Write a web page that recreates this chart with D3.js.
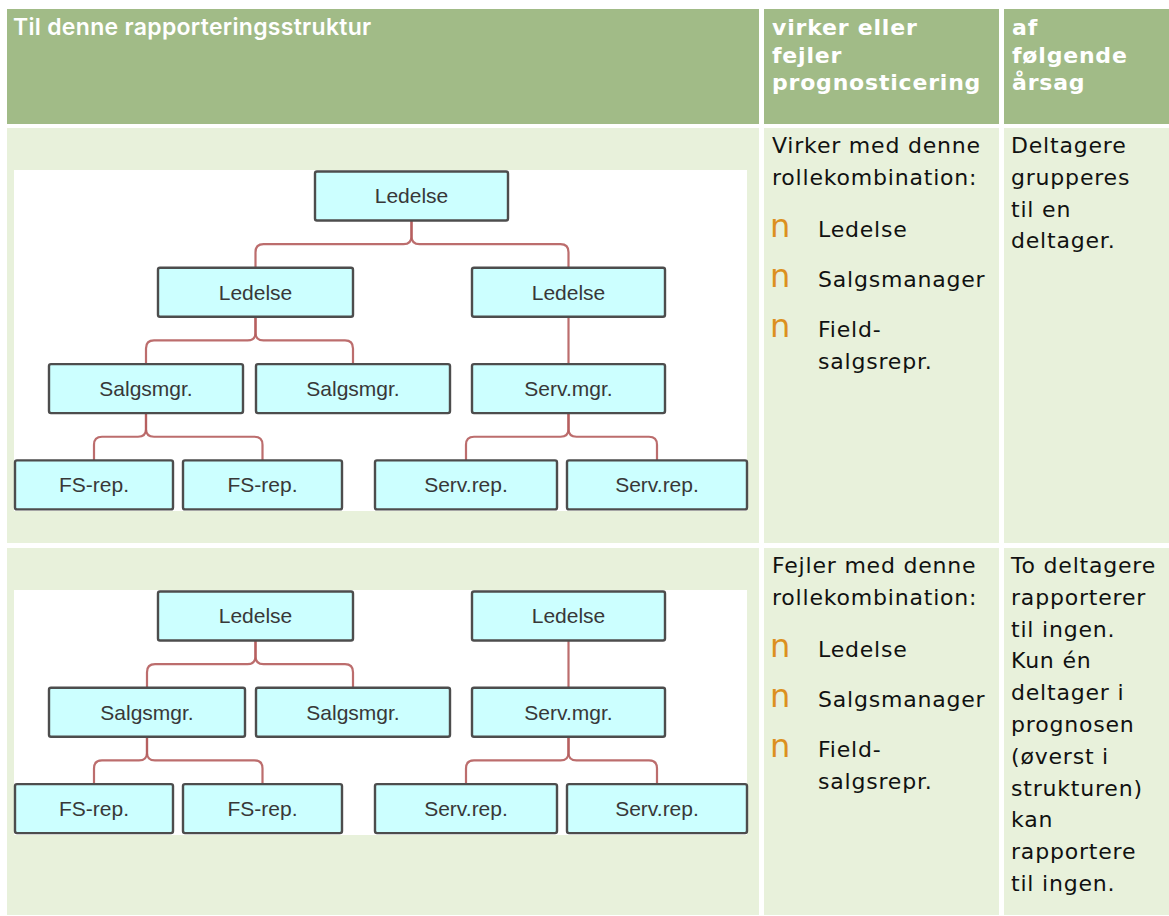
<!DOCTYPE html>
<html><head><meta charset="utf-8">
<script src="https://cdn.jsdelivr.net/npm/d3@7"></script>
<style>html,body{margin:0;padding:0;background:#fff;}svg{display:block;}</style>
</head><body>
<script>
// ---------- DATA ----------
const headers = [
  ["Til denne rapporteringsstruktur"],
  ["virker eller", "fejler", "prognosticering"],
  ["af", "følgende", "årsag"]
];
const statusLines = [
  ["Virker med denne", "rollekombination:"],
  ["Fejler med denne", "rollekombination:"]
];
const roleItems = [
  [["Ledelse"], ["Salgsmanager"], ["Field-", "salgsrepr."]],
  [["Ledelse"], ["Salgsmanager"], ["Field-", "salgsrepr."]]
];
const reasonLines = [
  ["Deltagere", "grupperes", "til en", "deltager."],
  ["To deltagere", "rapporterer", "til ingen.", "Kun én", "deltager i", "prognosen", "(øverst i", "strukturen)", "kan", "rapportere", "til ingen."]
];
const bulletGlyph = "n";

// org-chart structure (row 1: works, row 2: fails)
const tree1Labels  = ["Ledelse", "Ledelse", "Ledelse", "Salgsmgr.", "Salgsmgr.", "Serv.mgr.", "FS-rep.", "FS-rep.", "Serv.rep.", "Serv.rep."];
const tree1Parents = [-1, 0, 0, 1, 1, 2, 3, 3, 5, 5];
const tree1Levels  = [0, 1, 1, 2, 2, 2, 3, 3, 3, 3];
const tree2Labels  = ["Ledelse", "Ledelse", "Salgsmgr.", "Salgsmgr.", "Serv.mgr.", "FS-rep.", "FS-rep.", "Serv.rep.", "Serv.rep."];
const tree2Parents = [-1, -1, 0, 0, 1, 2, 2, 4, 4];
const tree2Levels  = [0, 0, 1, 1, 1, 2, 2, 2, 2];

// ---------- LAYOUT (diagram units of the drawing) ----------
const tree1Span = [[301,494],[144,339],[458,651],[35,229],[242,436],[458,651],[1,159],[169,328],[361,543],[553,733]];
const tree2Span = [[144,339],[458,651],[35,231],[242,436],[458,651],[1,159],[169,328],[361,543],[553,733]];

const W = 1169, H = 916;
const colX = [7, 764, 1004], colR = [759, 999, 1169];
const headTop = 9, headBot = 124;
const rowTop = [128, 548], rowBot = [543, 915];
const imgLeft = 14, imgRight = 747;
const imgTop = [170, 590], imgBot = [511, 835];
const C = {head:"#a1bb87", cell:"#e8f1db", box:"#ccffff", boxStroke:"#4d4d4d", link:"#b55d5d", bullet:"#dc9020"};

const svg = d3.select("body").append("svg").attr("width", W).attr("height", H);
svg.append("rect").attr("width", W).attr("height", H).attr("fill", "#fff");

// header cells
const colIdx = d3.range(3);
svg.selectAll("rect.head").data(colIdx).join("rect")
  .attr("x", i => colX[i]).attr("y", headTop)
  .attr("width", i => colR[i] - colX[i]).attr("height", headBot - headTop)
  .attr("fill", C.head);
// body cells
rowTop.forEach((t, r) => {
  svg.selectAll("rect.c" + r).data(colIdx).join("rect")
    .attr("x", i => colX[i]).attr("y", t)
    .attr("width", i => colR[i] - colX[i]).attr("height", rowBot[r] - t)
    .attr("fill", C.cell);
});

// header text
headers.forEach((lines, i) => {
  const t = svg.append("text")
    .attr("x", i === 0 ? 13 : colX[i] + 8)
    .attr("fill", "#fff")
    .style("font-family", i === 0 ? "Inter, 'Open Sans', sans-serif" : "'DejaVu Sans', Verdana, sans-serif")
    .style("font-weight", i === 0 ? 600 : 700)
    .style("font-size", i === 0 ? "23px" : "22px")
    .style("letter-spacing", i === 0 ? "0.3px" : "0.8px");
  t.selectAll("tspan").data(lines).join("tspan")
    .attr("x", i === 0 ? 13 : colX[i] + 8)
    .attr("y", (d, k) => 35 + k * 27.5)
    .text(d => d);
});

const bodyFont = sel => sel.style("font-family", "'DejaVu Sans', Verdana, sans-serif")
  .style("font-size", "22px").style("letter-spacing", "0.8px").attr("fill", "#111");
const LH = 31.8;

rowTop.forEach((t, r) => {
  const base = t + 25;
  // status paragraph
  const st = svg.append("text").call(bodyFont);
  st.selectAll("tspan").data(statusLines[r]).join("tspan")
    .attr("x", 772).attr("y", (d, k) => base + k * LH).text(d => d);
  // bullets
  let y = base + (statusLines[r].length - 1) * LH + 52;
  roleItems[r].forEach(item => {
    svg.append("text").attr("x", 770).attr("y", y).attr("fill", C.bullet)
      .style("font-family", "'DejaVu Sans', sans-serif").style("font-weight", 400)
      .style("font-size", "32px").text(bulletGlyph);
    const it = svg.append("text").call(bodyFont);
    it.selectAll("tspan").data(item).join("tspan")
      .attr("x", 818).attr("y", (d, k) => y + k * LH).text(d => d);
    y += (item.length - 1) * LH + 50.3;
  });
  // reason
  const rs = svg.append("text").call(bodyFont);
  rs.selectAll("tspan").data(reasonLines[r]).join("tspan")
    .attr("x", 1011).attr("y", (d, k) => base + k * LH).text(d => d);
});

// ---------- org charts ----------
function drawTree(r, labels, parents, levels, spans) {
  const g = svg.append("g");
  g.append("rect").attr("x", imgLeft).attr("y", imgTop[r])
    .attr("width", imgRight - imgLeft).attr("height", imgBot[r] - imgTop[r]).attr("fill", "#fff");
  const x = d3.scaleLinear().domain([0, 733]).range([imgLeft, imgRight]);
  const y = d3.scaleLinear().domain([0, 1]).range([imgTop[r] + 1.5, imgTop[r] + 1.5 + 96.3]);
  const boxH = 49, rad = 8;
  const nodes = labels.map((l, i) => ({label: l, parent: parents[i], level: levels[i],
    x0: x(spans[i][0]), x1: x(spans[i][1]), top: y(levels[i])}));
  nodes.forEach(n => n.cx = (n.x0 + n.x1) / 2);
  // links
  const links = nodes.filter(n => n.parent >= 0);
  g.selectAll("path.link").data(links).join("path")
    .attr("fill", "none").attr("stroke", C.link).attr("stroke-width", 2.2).attr("stroke-opacity", 0.9)
    .attr("d", c => {
      const p = nodes[c.parent];
      const pb = p.top + boxH, ct = c.top, by = (pb + ct) / 2;
      const siblings = nodes.filter(n => n.parent === c.parent);
      if (siblings.length === 1) return `M${p.cx},${pb}V${ct}`;
      const s = c.cx < p.cx ? -1 : 1;
      return `M${p.cx},${pb}V${by - rad}Q${p.cx},${by} ${p.cx + s * rad},${by}` +
             `H${c.cx - s * rad}Q${c.cx},${by} ${c.cx},${by + rad}V${ct}`;
    });
  const bx = g.selectAll("g.node").data(nodes).join("g");
  bx.append("rect").attr("x", d => d.x0).attr("y", d => d.top)
    .attr("width", d => d.x1 - d.x0).attr("height", boxH).attr("rx", 2)
    .attr("fill", C.box).attr("stroke", C.boxStroke).attr("stroke-width", 2.4);
  bx.append("text").attr("x", d => d.cx).attr("y", d => d.top + boxH / 2).attr("dy", "0.35em")
    .attr("text-anchor", "middle").attr("fill", "#383838")
    .style("font-family", "'Liberation Sans', Arial, sans-serif").style("font-size", "21px")
    .text(d => d.label);
}
drawTree(0, tree1Labels, tree1Parents, tree1Levels, tree1Span);
drawTree(1, tree2Labels, tree2Parents, tree2Levels, tree2Span);
</script>
</body></html>
